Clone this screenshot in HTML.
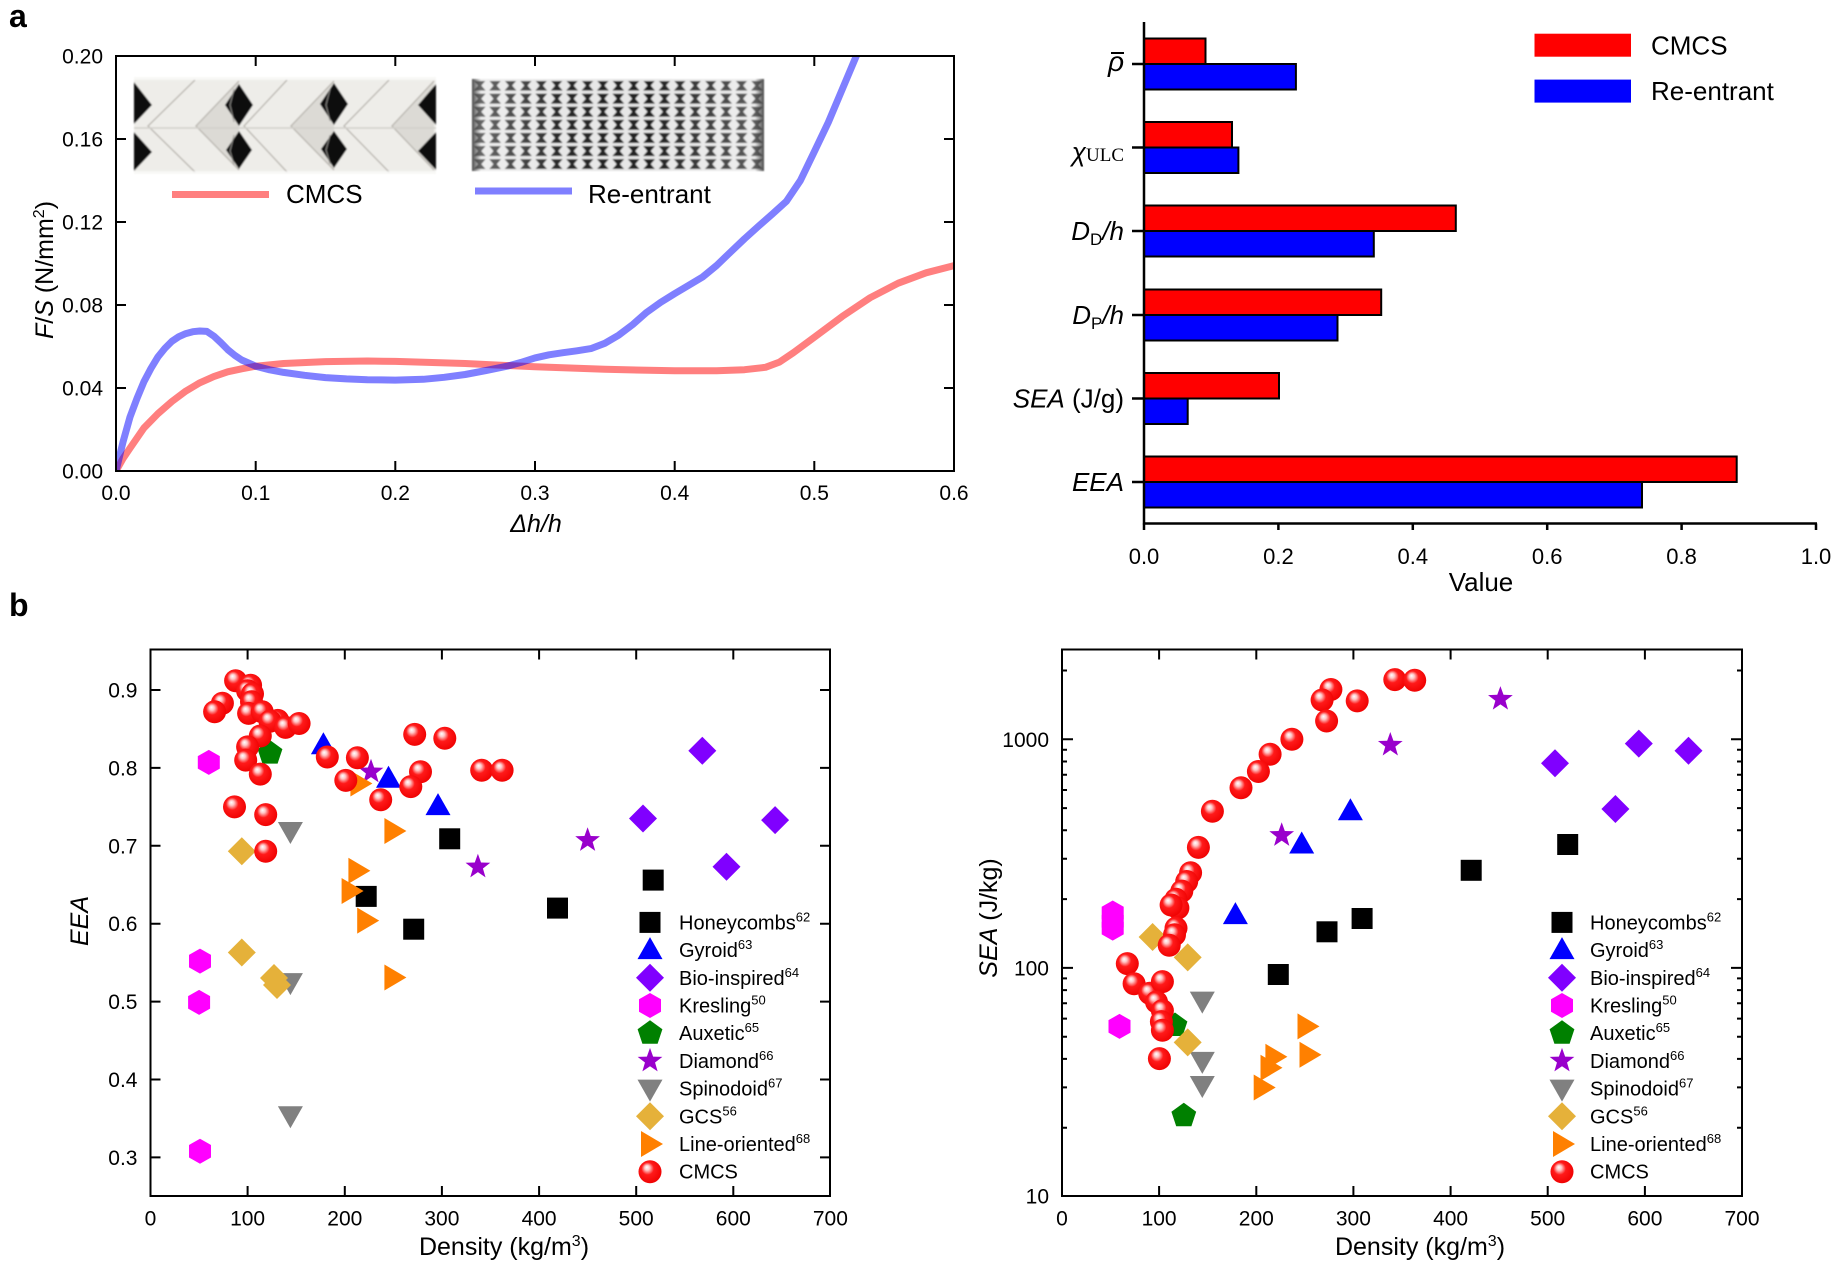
<!DOCTYPE html>
<html><head><meta charset="utf-8"><style>
html,body{margin:0;padding:0;background:#fff;}
svg{display:block;}
text{font-family:"Liberation Sans",Arial,sans-serif;}
</style></head><body>
<svg width="1841" height="1274" viewBox="0 0 1841 1274" xmlns="http://www.w3.org/2000/svg">
<defs>
 <radialGradient id="rg" cx="0.45" cy="0.45" r="0.6" fx="0.36" fy="0.3">
  <stop offset="0" stop-color="#ffffff"/>
  <stop offset="0.18" stop-color="#ffc8c8"/>
  <stop offset="0.45" stop-color="#ff1a1a"/>
  <stop offset="1" stop-color="#ee0000"/>
 </radialGradient>
 <circle id="c" r="11.5" fill="url(#rg)"/>
 <rect id="sq" x="-10.5" y="-10.5" width="21" height="21" fill="#000"/>
 <polygon id="tu" points="0,-13 12.5,9 -12.5,9" fill="#0000ff"/>
 <polygon id="bd" points="0,-14 14,0 0,14 -14,0" fill="#8000ff"/>
 <polygon id="hx" points="0,-12.5 11,-6.25 11,6.25 0,12.5 -11,6.25 -11,-6.25" fill="#ff00ff"/>
 <polygon id="pt" points="0,-13 12.4,-4 7.6,10.5 -7.6,10.5 -12.4,-4" fill="#008000"/>
 <polygon id="st" points="0,-13 3.12,-4.29 12.36,-4.02 5.04,1.64 7.64,10.52 0,5.3 -7.64,10.52 -5.04,1.64 -12.36,-4.02 -3.12,-4.29" fill="#9900cc"/>
 <polygon id="td" points="-12.5,-9 12.5,-9 0,13" fill="#808080"/>
 <polygon id="gd" points="0,-14 14,0 0,14 -14,0" fill="#e5b13a"/>
 <polygon id="tr" points="-9,-13 13,0 -9,13" fill="#ff8000"/>
 <clipPath id="clipA"><rect x="116" y="56" width="838" height="415"/></clipPath>
 <pattern id="re" x="0" y="0" width="15.4" height="13.1" patternUnits="userSpaceOnUse">
  <rect width="15.4" height="13.1" fill="#e6e6e6"/>
  <polygon points="1.8,1.6 13.6,1.6 9.3,6.55 13.6,11.5 1.8,11.5 6.1,6.55" fill="#1e1e1e"/>
 </pattern>
 <linearGradient id="edgeL" x1="0" x2="1" y1="0" y2="0">
  <stop offset="0" stop-color="#333" stop-opacity="0.9"/>
  <stop offset="1" stop-color="#333" stop-opacity="0"/>
 </linearGradient>
 <linearGradient id="edgeR" x1="1" x2="0" y1="0" y2="0">
  <stop offset="0" stop-color="#333" stop-opacity="0.9"/>
  <stop offset="1" stop-color="#333" stop-opacity="0"/>
 </linearGradient>
 <linearGradient id="lightEnds" x1="0" x2="1" y1="0" y2="0">
  <stop offset="0" stop-color="#fff" stop-opacity="0.35"/>
  <stop offset="0.3" stop-color="#fff" stop-opacity="0.05"/>
  <stop offset="0.6" stop-color="#fff" stop-opacity="0"/>
  <stop offset="1" stop-color="#fff" stop-opacity="0.3"/>
 </linearGradient>
 <filter id="bl"><feGaussianBlur stdDeviation="0.7"/></filter>
</defs>

<!-- panel letters -->
<text x="9" y="27" font-size="32" font-weight="bold">a</text>
<text x="9" y="616" font-size="32" font-weight="bold">b</text>

<!-- ================= Top-left curve chart ================= -->
<g filter="url(#bl)">
 <g transform="translate(134,77)">
  <rect width="302" height="97" fill="#eeede9"/>
  <polygon points="62,49 105,4 105,93" fill="#dcdad5"/>
  <polygon points="157,49 200,4 200,93" fill="#dcdad5"/>
  <polygon points="258,49 300,4 300,93" fill="#dcdad5"/>
  <g fill="none" stroke="#bdbab4" stroke-width="1.4">
   <polyline points="61,3 14,49 61,95"/><polyline points="105,4 62,49 105,93"/>
   <polyline points="153,3 110,49 153,95"/><polyline points="200,4 157,49 200,93"/>
   <polyline points="255,3 210,49 255,95"/><polyline points="300,4 258,49 300,93"/>
   <line x1="0" y1="51" x2="302" y2="51" stroke="#d2d0cb"/>
  </g>
  <g fill="#111">
   <polygon points="0,5 18,28 0,47"/><polygon points="0,55 18,75 0,94"/>
   <polygon points="105,7 119,28 105,49 91,28"/><polygon points="105,54 118,73 105,92 92,73"/>
   <polygon points="200,6 214,27 200,48 186,27"/><polygon points="200,54 213,72 200,91 187,72"/>
   <polygon points="302,7 284,28 302,48"/><polygon points="302,55 284,74 302,93"/>
  </g>
  <g fill="none" stroke="#9a9893" stroke-width="1.2" opacity="0.8">
   <polyline points="100,12 96,28 100,45"/><polyline points="100,58 96,74 100,88"/>
   <polyline points="196,12 192,28 196,44"/><polyline points="196,58 192,73 196,87"/>
  </g>
  <rect x="0" y="0" width="302" height="3" fill="#fff" opacity="0.6"/>
  <rect x="0" y="94" width="302" height="3" fill="#fff" opacity="0.6"/>
 </g>
 <g transform="translate(472,79)">
  <rect width="292" height="92" fill="url(#re)"/>
  <rect width="292" height="2" fill="#e6e6e6"/>
  <rect y="90" width="292" height="2" fill="#e6e6e6"/>
  <rect width="292" height="92" fill="url(#lightEnds)"/>
  <rect width="9" height="92" fill="url(#edgeL)"/>
  <rect x="283" width="9" height="92" fill="url(#edgeR)"/>
 </g>
</g>

<g clip-path="url(#clipA)" fill="none" stroke-linejoin="round" stroke-linecap="round">
 <polyline stroke="#ff0000" stroke-opacity="0.5" stroke-width="7" points="116,471 123,458.5 130,448.2 143.9,428 157.9,413.7 171.9,401.5 185.8,391.1 199.8,382.8 213.8,376.6 227.7,371.8 241.7,368.8 255.7,366.2 283.6,363.5 325.5,361.6 367.4,361 395.3,361.4 465.2,363.5 535,366.8 604.8,369.3 674.7,370.8 716.6,370.8 744.5,369.7 765.5,367.3 779.4,362.1 793.4,352.7 814.4,337.2 842.3,316.4 870.2,297.7 898.2,283.2 926.1,272.8 954,265.6"/>
 <polyline stroke="#0000ff" stroke-opacity="0.5" stroke-width="7" points="116,471 123,442 130,417 137,398.4 143.9,381.8 150.9,368.5 157.9,356.9 164.9,348.3 171.9,341.3 178.8,336.7 185.8,333.6 192.8,331.7 199.8,331 206.8,331.4 213.8,336.1 220.7,342.5 227.7,349.6 234.7,355.3 241.7,360 255.7,366.2 269.7,369.8 283.6,372.4 304.6,375.3 325.5,377.6 346.5,378.9 367.4,379.7 395.3,380.1 423.3,379.3 444.2,377.3 465.2,374.5 486.1,370.5 507.1,366.2 521,362.4 535,357.9 549,354.8 563,352.7 576.9,350.8 590.9,348.6 604.8,343.3 618.8,335.1 632.8,324.5 646.7,312.3 660.7,302.3 674.7,293.6 688.6,285.4 702.6,277 716.6,265.5 730.5,252.1 744.5,238.8 758.5,226.2 772.4,214 786.4,201.3 800.4,180.5 814.4,151.5 828.3,122.4 842.3,89.2 856.3,56 863.2,37"/>
</g>

<!-- inset legend -->
<line x1="172" y1="194.5" x2="269" y2="194.5" stroke="#ff0000" stroke-opacity="0.5" stroke-width="7"/>
<text x="286" y="203" font-size="26">CMCS</text>
<line x1="475" y1="191" x2="572" y2="191" stroke="#0000ff" stroke-opacity="0.5" stroke-width="7"/>
<text x="588" y="203" font-size="26">Re-entrant</text>

<g stroke="#000" stroke-width="2" fill="none">
 <rect x="116" y="56" width="838" height="415"/>
 <path d="M255.7,471V461M395.3,471V461M535,471V461M674.7,471V461M814.3,471V461
          M255.7,56V66M395.3,56V66M535,56V66M674.7,56V66M814.3,56V66
          M116,388H126M116,305H126M116,222H126M116,139H126
          M954,388H944M954,305H944M954,222H944M954,139H944"/>
</g>
<g font-size="21" text-anchor="end">
 <text x="103" y="478.5">0.00</text>
 <text x="103" y="395.5">0.04</text>
 <text x="103" y="312.5">0.08</text>
 <text x="103" y="229.5">0.12</text>
 <text x="103" y="146.5">0.16</text>
 <text x="103" y="63.5">0.20</text>
</g>
<g font-size="21" text-anchor="middle">
 <text x="116" y="500">0.0</text>
 <text x="255.7" y="500">0.1</text>
 <text x="395.3" y="500">0.2</text>
 <text x="535" y="500">0.3</text>
 <text x="674.7" y="500">0.4</text>
 <text x="814.3" y="500">0.5</text>
 <text x="954" y="500">0.6</text>
</g>
<text x="536" y="532" font-size="25" font-style="italic" text-anchor="middle">Δh/h</text>
<text transform="translate(53,270) rotate(-90)" font-size="25" text-anchor="middle"><tspan font-style="italic">F</tspan>/<tspan font-style="italic">S</tspan> (N/mm<tspan font-size="16" dy="-9">2</tspan><tspan dy="9">)</tspan></text>

<!-- ================= Top-right bar chart ================= -->
<g stroke="#000" stroke-width="2">
 <rect x="1144" y="38.5" width="61.5" height="25.5" fill="#ff0000"/>
 <rect x="1144" y="64" width="151.9" height="25.5" fill="#0000ff"/>
 <rect x="1144" y="122" width="88" height="25.5" fill="#ff0000"/>
 <rect x="1144" y="147.5" width="94.4" height="25.5" fill="#0000ff"/>
 <rect x="1144" y="205.5" width="311.8" height="25.5" fill="#ff0000"/>
 <rect x="1144" y="231" width="229.8" height="25.5" fill="#0000ff"/>
 <rect x="1144" y="289.5" width="237.2" height="25.5" fill="#ff0000"/>
 <rect x="1144" y="315" width="193.5" height="25.5" fill="#0000ff"/>
 <rect x="1144" y="373" width="135" height="25.5" fill="#ff0000"/>
 <rect x="1144" y="398.5" width="43.7" height="25.5" fill="#0000ff"/>
 <rect x="1144" y="456.5" width="592.7" height="25.5" fill="#ff0000"/>
 <rect x="1144" y="482" width="498" height="25.5" fill="#0000ff"/>
</g>
<g stroke="#000" stroke-width="2.5" fill="none">
 <path d="M1144,22V524.5M1143,523.5H1817"/>
 <path d="M1132,64H1144M1132,147.5H1144M1132,231H1144M1132,315H1144M1132,398.5H1144M1132,482H1144"/>
 <path d="M1144,523.5V530M1278.4,523.5V530M1412.8,523.5V530M1547.2,523.5V530M1681.6,523.5V530M1816,523.5V530"/>
</g>
<g font-size="22" text-anchor="middle">
 <text x="1144" y="564">0.0</text>
 <text x="1278.4" y="564">0.2</text>
 <text x="1412.8" y="564">0.4</text>
 <text x="1547.2" y="564">0.6</text>
 <text x="1681.6" y="564">0.8</text>
 <text x="1816" y="564">1.0</text>
</g>
<text x="1481" y="591" font-size="26" text-anchor="middle">Value</text>
<!-- category labels -->
<text x="1124" y="71" font-size="28" font-style="italic" text-anchor="end">ρ</text>
<line x1="1111" y1="53" x2="1124" y2="53" stroke="#000" stroke-width="2"/>
<text x="1124" y="161" text-anchor="end"><tspan font-size="26" font-style="italic">χ</tspan><tspan font-family="Liberation Serif,serif" font-size="19">ULC</tspan></text>
<text x="1124" y="240" font-size="26" text-anchor="end"><tspan font-style="italic">D</tspan><tspan font-size="17" dy="5">D</tspan><tspan dy="-5" font-style="italic">/h</tspan></text>
<text x="1124" y="324" font-size="26" text-anchor="end"><tspan font-style="italic">D</tspan><tspan font-size="17" dy="5">P</tspan><tspan dy="-5" font-style="italic">/h</tspan></text>
<text x="1124" y="407.5" font-size="26" text-anchor="end"><tspan font-style="italic">SEA</tspan> (J/g)</text>
<text x="1124" y="491" font-size="26" font-style="italic" text-anchor="end">EEA</text>
<!-- legend -->
<rect x="1534.5" y="33.7" width="96.5" height="23" fill="#ff0000"/>
<rect x="1534.5" y="79.6" width="96.5" height="23" fill="#0000ff"/>
<text x="1651" y="54.5" font-size="26">CMCS</text>
<text x="1651" y="100" font-size="26">Re-entrant</text>

<!-- ================= Bottom-left scatter (EEA) ================= -->
<g>
 <use href="#sq" x="449.7" y="838.8"/><use href="#sq" x="366.2" y="896.4"/><use href="#sq" x="413.7" y="929.2"/><use href="#sq" x="557.5" y="908.1"/><use href="#sq" x="653.2" y="880.1"/>
 <use href="#tu" x="323.4" y="745.3"/><use href="#tu" x="388.5" y="778.8"/><use href="#tu" x="438" y="806.1"/>
 <use href="#bd" x="702.3" y="750.8"/><use href="#bd" x="643" y="818.5"/><use href="#bd" x="775.1" y="820.1"/><use href="#bd" x="726.5" y="866.8"/>
 <use href="#hx" x="208.8" y="762.4"/><use href="#hx" x="200" y="961.1"/><use href="#hx" x="199.1" y="1002.4"/><use href="#hx" x="200" y="1151.2"/>
 <use href="#pt" x="270" y="753.1"/>
 <use href="#st" x="371" y="771.8"/><use href="#st" x="477.9" y="866.8"/><use href="#st" x="587.6" y="840.3"/>
 <use href="#td" x="290.4" y="831"/><use href="#td" x="290.4" y="982.1"/><use href="#td" x="290.4" y="1115.3"/>
 <use href="#gd" x="241.8" y="851.3"/><use href="#gd" x="241.8" y="952.5"/><use href="#gd" x="277" y="985"/><use href="#gd" x="274" y="978"/>
 <use href="#tr" x="359.4" y="783.5"/><use href="#tr" x="393.4" y="831"/><use href="#tr" x="357.4" y="870.7"/><use href="#tr" x="350.6" y="891"/><use href="#tr" x="366.2" y="920.6"/><use href="#tr" x="393.4" y="977.5"/>
 <use href="#c" x="235.6" y="680.7"/><use href="#c" x="250.6" y="685.3"/><use href="#c" x="247.6" y="690.8"/><use href="#c" x="252.5" y="693.9"/><use href="#c" x="251.5" y="701.7"/>
 <use href="#c" x="222.4" y="703.2"/><use href="#c" x="214.6" y="711.8"/><use href="#c" x="248.6" y="713.4"/><use href="#c" x="262.2" y="711.8"/><use href="#c" x="277.8" y="720.4"/>
 <use href="#c" x="270" y="721.2"/><use href="#c" x="285.5" y="727.4"/><use href="#c" x="299.1" y="723.5"/><use href="#c" x="260.3" y="736"/><use href="#c" x="247.6" y="746.9"/>
 <use href="#c" x="245.7" y="760.1"/><use href="#c" x="260.3" y="774.1"/><use href="#c" x="327.3" y="757"/><use href="#c" x="357.4" y="757.8"/><use href="#c" x="345.8" y="780.4"/>
 <use href="#c" x="414.7" y="734.4"/><use href="#c" x="444.8" y="738.3"/><use href="#c" x="420.5" y="771.8"/><use href="#c" x="410.8" y="786.6"/><use href="#c" x="380.7" y="799.8"/>
 <use href="#c" x="481.7" y="770.2"/><use href="#c" x="502.1" y="770.2"/><use href="#c" x="234.5" y="806.9"/><use href="#c" x="265.7" y="814.6"/><use href="#c" x="265.7" y="851.3"/>
</g>
<!-- legend left -->
<g>
 <use href="#sq" x="650" y="922.4"/><use href="#tu" x="650" y="950.1"/><use href="#bd" x="650" y="977.8"/><use href="#hx" x="650" y="1005.5"/><use href="#pt" x="650" y="1033.2"/>
 <use href="#st" x="650" y="1060.9"/><use href="#td" x="650" y="1088.6"/><use href="#gd" x="650" y="1116.3"/><use href="#tr" x="650" y="1144"/><use href="#c" x="650" y="1171.7"/>
</g>
<g font-size="20">
 <text x="679" y="929.4">Honeycombs<tspan font-size="13" dy="-8">62</tspan></text>
 <text x="679" y="957.1">Gyroid<tspan font-size="13" dy="-8">63</tspan></text>
 <text x="679" y="984.8">Bio-inspired<tspan font-size="13" dy="-8">64</tspan></text>
 <text x="679" y="1012.5">Kresling<tspan font-size="13" dy="-8">50</tspan></text>
 <text x="679" y="1040.2">Auxetic<tspan font-size="13" dy="-8">65</tspan></text>
 <text x="679" y="1067.9">Diamond<tspan font-size="13" dy="-8">66</tspan></text>
 <text x="679" y="1095.6">Spinodoid<tspan font-size="13" dy="-8">67</tspan></text>
 <text x="679" y="1123.3">GCS<tspan font-size="13" dy="-8">56</tspan></text>
 <text x="679" y="1151">Line-oriented<tspan font-size="13" dy="-8">68</tspan></text>
 <text x="679" y="1178.7">CMCS</text>
</g>
<g stroke="#000" stroke-width="2" fill="none">
 <rect x="150.5" y="649.5" width="679.5" height="546.5"/>
 <path d="M247.6,1196V1186M344.8,1196V1186M441.9,1196V1186M539.1,1196V1186M636.2,1196V1186M733.3,1196V1186
          M247.6,649.5V659.5M344.8,649.5V659.5M441.9,649.5V659.5M539.1,649.5V659.5M636.2,649.5V659.5M733.3,649.5V659.5
          M150.5,690H160.5M150.5,767.9H160.5M150.5,845.8H160.5M150.5,923.7H160.5M150.5,1001.6H160.5M150.5,1079.5H160.5M150.5,1157.4H160.5
          M830,690H820M830,767.9H820M830,845.8H820M830,923.7H820M830,1001.6H820M830,1079.5H820M830,1157.4H820"/>
</g>
<g font-size="21" text-anchor="middle">
 <text x="150.5" y="1225.5">0</text><text x="247.6" y="1225.5">100</text><text x="344.8" y="1225.5">200</text><text x="441.9" y="1225.5">300</text>
 <text x="539.1" y="1225.5">400</text><text x="636.2" y="1225.5">500</text><text x="733.3" y="1225.5">600</text><text x="830.4" y="1225.5">700</text>
</g>
<g font-size="21" text-anchor="end">
 <text x="137.5" y="697.5">0.9</text><text x="137.5" y="775.4">0.8</text><text x="137.5" y="853.3">0.7</text><text x="137.5" y="931.2">0.6</text>
 <text x="137.5" y="1009.1">0.5</text><text x="137.5" y="1087">0.4</text><text x="137.5" y="1164.9">0.3</text>
</g>
<text x="504" y="1255" font-size="25" text-anchor="middle">Density (kg/m<tspan font-size="16" dy="-9">3</tspan><tspan dy="9">)</tspan></text>
<text transform="translate(88,921) rotate(-90)" font-size="25" font-style="italic" text-anchor="middle">EEA</text>

<!-- ================= Bottom-right scatter (SEA) ================= -->
<g>
 <use href="#sq" x="1567.7" y="844.5"/><use href="#sq" x="1471.2" y="870.3"/><use href="#sq" x="1362.1" y="918.5"/><use href="#sq" x="1327" y="931.8"/><use href="#sq" x="1278.3" y="974.5"/>
 <use href="#tu" x="1350.4" y="811.3"/><use href="#tu" x="1301.7" y="844.5"/><use href="#tu" x="1235.4" y="915.1"/>
 <use href="#bd" x="1638.8" y="743.6"/><use href="#bd" x="1688.5" y="750.7"/><use href="#bd" x="1555" y="763.3"/><use href="#bd" x="1615.4" y="809"/>
 <use href="#hx" x="1112.7" y="913"/><use href="#hx" x="1112.7" y="921.3"/><use href="#hx" x="1112.7" y="928.1"/><use href="#hx" x="1119.5" y="1026.4"/>
 <use href="#pt" x="1175" y="1025.5"/><use href="#pt" x="1183.8" y="1115.8"/>
 <use href="#st" x="1500.4" y="699.1"/><use href="#st" x="1390.3" y="745"/><use href="#st" x="1281.7" y="835.3"/>
 <use href="#td" x="1202.3" y="1000.6"/><use href="#td" x="1202.3" y="1060.9"/><use href="#td" x="1202.3" y="1085"/>
 <use href="#gd" x="1152.6" y="937"/><use href="#gd" x="1187.7" y="957.4"/><use href="#gd" x="1187.7" y="1042.4"/>
 <use href="#tr" x="1306.5" y="1026.4"/><use href="#tr" x="1308.5" y="1054.8"/><use href="#tr" x="1274.4" y="1056.8"/><use href="#tr" x="1269.5" y="1067.8"/><use href="#tr" x="1262.7" y="1087.5"/>
 <use href="#c" x="1394.8" y="679.6"/><use href="#c" x="1414.7" y="680.3"/><use href="#c" x="1330.9" y="689.5"/><use href="#c" x="1322.1" y="700"/><use href="#c" x="1357.2" y="700.9"/>
 <use href="#c" x="1326.6" y="721"/><use href="#c" x="1291.9" y="739.3"/><use href="#c" x="1270.1" y="754.2"/><use href="#c" x="1258.4" y="771.5"/><use href="#c" x="1241" y="787.8"/>
 <use href="#c" x="1212.4" y="811.3"/><use href="#c" x="1198.4" y="847.4"/><use href="#c" x="1190.6" y="872.8"/><use href="#c" x="1186.7" y="881.5"/><use href="#c" x="1181.8" y="891.1"/>
 <use href="#c" x="1176" y="899.3"/><use href="#c" x="1177.9" y="908"/><use href="#c" x="1171.1" y="905"/><use href="#c" x="1176" y="928.1"/><use href="#c" x="1174.5" y="934.8"/>
 <use href="#c" x="1169.2" y="945.3"/><use href="#c" x="1127.3" y="963.6"/><use href="#c" x="1134.1" y="983.7"/><use href="#c" x="1149.7" y="993.3"/><use href="#c" x="1162.4" y="981.6"/>
 <use href="#c" x="1156.5" y="1002"/><use href="#c" x="1162.4" y="1010.6"/><use href="#c" x="1161.4" y="1021.6"/><use href="#c" x="1162.4" y="1030.3"/><use href="#c" x="1159.4" y="1058.6"/>
</g>
<!-- legend right -->
<g>
 <use href="#sq" x="1562" y="922.4"/><use href="#tu" x="1562" y="950.1"/><use href="#bd" x="1562" y="977.8"/><use href="#hx" x="1562" y="1005.5"/><use href="#pt" x="1562" y="1033.2"/>
 <use href="#st" x="1562" y="1060.9"/><use href="#td" x="1562" y="1088.6"/><use href="#gd" x="1562" y="1116.3"/><use href="#tr" x="1562" y="1144"/><use href="#c" x="1562" y="1171.7"/>
</g>
<g font-size="20">
 <text x="1590" y="929.4">Honeycombs<tspan font-size="13" dy="-8">62</tspan></text>
 <text x="1590" y="957.1">Gyroid<tspan font-size="13" dy="-8">63</tspan></text>
 <text x="1590" y="984.8">Bio-inspired<tspan font-size="13" dy="-8">64</tspan></text>
 <text x="1590" y="1012.5">Kresling<tspan font-size="13" dy="-8">50</tspan></text>
 <text x="1590" y="1040.2">Auxetic<tspan font-size="13" dy="-8">65</tspan></text>
 <text x="1590" y="1067.9">Diamond<tspan font-size="13" dy="-8">66</tspan></text>
 <text x="1590" y="1095.6">Spinodoid<tspan font-size="13" dy="-8">67</tspan></text>
 <text x="1590" y="1123.3">GCS<tspan font-size="13" dy="-8">56</tspan></text>
 <text x="1590" y="1151">Line-oriented<tspan font-size="13" dy="-8">68</tspan></text>
 <text x="1590" y="1178.7">CMCS</text>
</g>
<g stroke="#000" stroke-width="2" fill="none">
 <rect x="1062" y="649.5" width="680" height="546.5"/>
 <path d="M1159.1,1196V1186M1256.3,1196V1186M1353.4,1196V1186M1450.6,1196V1186M1547.7,1196V1186M1644.9,1196V1186
          M1159.1,649.5V659.5M1256.3,649.5V659.5M1353.4,649.5V659.5M1450.6,649.5V659.5M1547.7,649.5V659.5M1644.9,649.5V659.5
          M1062,967.9H1073M1062,739.3H1073M1742,967.9H1731M1742,739.3H1731"/>
 <path d="M1062,1127.7H1067M1062,1087.4H1067M1062,1058.9H1067M1062,1036.7H1067M1062,1018.6H1067M1062,1003.3H1067M1062,990.1H1067M1062,978.4H1067
          M1062,899.1H1067M1062,858.8H1067M1062,830.3H1067M1062,808.1H1067M1062,790H1067M1062,774.7H1067M1062,761.5H1067M1062,749.8H1067M1062,670.5H1067
          M1742,1127.7H1737M1742,1087.4H1737M1742,1058.9H1737M1742,1036.7H1737M1742,1018.6H1737M1742,1003.3H1737M1742,990.1H1737M1742,978.4H1737
          M1742,899.1H1737M1742,858.8H1737M1742,830.3H1737M1742,808.1H1737M1742,790H1737M1742,774.7H1737M1742,761.5H1737M1742,749.8H1737M1742,670.5H1737"/>
</g>
<g font-size="21" text-anchor="middle">
 <text x="1062" y="1225.5">0</text><text x="1159.1" y="1225.5">100</text><text x="1256.3" y="1225.5">200</text><text x="1353.4" y="1225.5">300</text>
 <text x="1450.6" y="1225.5">400</text><text x="1547.7" y="1225.5">500</text><text x="1644.9" y="1225.5">600</text><text x="1742" y="1225.5">700</text>
</g>
<g font-size="21" text-anchor="end">
 <text x="1049" y="746.8">1000</text><text x="1049" y="975.4">100</text><text x="1049" y="1203.5">10</text>
</g>
<text x="1420" y="1255" font-size="25" text-anchor="middle">Density (kg/m<tspan font-size="16" dy="-9">3</tspan><tspan dy="9">)</tspan></text>
<text transform="translate(997,918) rotate(-90)" font-size="25" text-anchor="middle"><tspan font-style="italic">SEA</tspan> (J/kg)</text>
</svg>
</body></html>
